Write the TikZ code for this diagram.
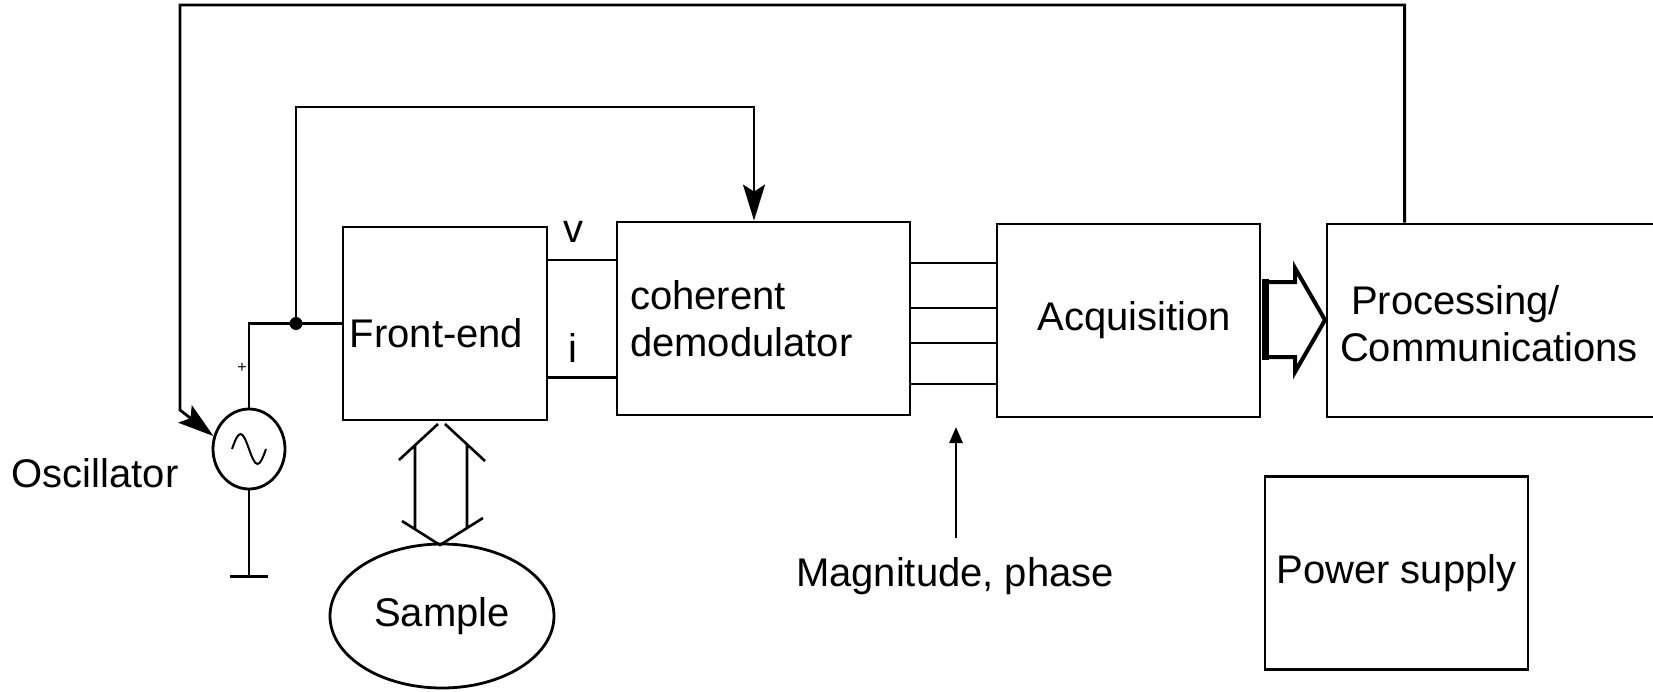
\documentclass[tikz,border=0pt]{standalone}
\usepackage{fontspec}
\setmainfont{Liberation Sans}
\usetikzlibrary{arrows.meta, positioning, calc, shapes.geometric}
\tikzset{
  box/.style    ={draw, align=center, minimum height=193pt, minimum width=204pt,
                  inner sep=0pt, font=\fontsize{40}{47}\selectfont},
  lbl/.style    ={font=\fontsize{40}{47}\selectfont, inner sep=0pt},
  arr/.style    ={-{Stealth[length=36pt, width=22pt, inset=7pt]}, line width=2.8pt},
  arrsm/.style  ={-{Triangle[length=16pt, width=13pt]}, line width=2.8pt},
}
\begin{document}
\begin{tikzpicture}[x=1pt, y=-1pt, line width=2.8pt, node distance=67pt]
  \useasboundingbox (0,0) rectangle (1653,691);

  % Blocks
  \node[box, text height=48pt, text depth=0pt] (fe) at (445,323.5) {\hspace*{-17pt}Front-end};
  \node[box, minimum width=293pt, text width=267pt, align=left, inner xsep=13pt,
        right=67.2pt of fe, yshift=5pt]       (demod) {coherent\\demodulator};
  \node[box, minimum width=263pt, right=84.2pt of demod, yshift=-2pt] (acq) {\hspace*{12pt}Acquisition};
  \node[box, minimum width=340pt, text width=314pt, align=left, inner xsep=13pt,
        text height=28pt, text depth=40pt,
        right=64.2pt of acq]                  (proc)  {\hspace*{11pt}Processing/\\Communications};
  \node[box, minimum width=263pt]             (pwr)   at (1396.5,573) {Power supply};
  \node[draw, ellipse, lbl, minimum width=224pt, minimum height=144pt] (smp) at (442,616) {Sample};

  % Oscillator
  \node[draw, ellipse, minimum width=72pt, minimum height=80pt, inner sep=0pt] (osc) at (249,449) {};
  \draw[line width=2pt] ($(osc.center)+(-17,0)$) sin ++(8.5,-15) cos ++(8.5,15)
        sin ++(8.5,15) cos ++(8.5,-15);
  \node[lbl]                                  (osclbl) at (95,473) {Oscillator};
  \node[font=\fontsize{16}{16}\selectfont, inner sep=0pt] (plus) at (242,368) {+};
  \draw (osc.south) -- ++(0,86) coordinate (gnd);
  \draw ($(gnd)+(-19,0)$) -- ++(38,0);

  \coordinate (jn) at (296,323.5);
  \draw (osc.north) |- (jn) -- (jn -| fe.west);
  \fill (jn) circle (6.5pt);

  % Feedback paths
  \coordinate (ftop)  at (180,5);
  \coordinate (fbend) at (180,410);
  \draw[arr] ([xshift=79pt]proc.north west) |- (ftop) -- (fbend) -- (osc.160);
  \coordinate (rtop) at (754,107);
  \draw[arr] (jn) |- (rtop) -- (rtop |- demod.north);

  % v, i
  \coordinate (vw) at ([yshift=63.5pt]fe.east);
  \coordinate (iw) at ([yshift=-54pt]fe.east);
  \draw (vw) -- (vw -| demod.west);
  \draw (iw) -- (iw -| demod.west);
  \node[lbl] (vlbl) at (573,232) {v};
  \node[lbl] (ilbl) at (573,348) {i};

  % Demodulator outputs
  \foreach \dy in {55.5,10.5,-24.5,-65.5}{
    \coordinate (mp) at ([yshift=\dy pt]demod.east);
    \draw (mp) -- (mp -| acq.west);
  }
  \node[lbl, inner ysep=18pt] (mag) at (955,576) {Magnitude, phase};
  \coordinate (magtip) at (956,427);
  \draw[arrsm] (mag.north -| magtip) -- (magtip);

  % Front-end <-> sample
  \draw[line width=2.6pt] (399,460) -- (438,424) (445,424) -- (485,461)
        (415,445) -- (415,529) (467,445) -- (467,528)
        (402,521) -- (440,545) -- (483,518);

  % Acquisition => processing
  \draw[line width=4pt, line join=miter] (1264,282) -- (1295,282) -- (1295,268)
        -- (1325,320) -- (1295,372) -- (1295,357) -- (1264,357);
  \draw[line width=7pt] (1265,279) -- (1265,360);
\end{tikzpicture}
\end{document}
